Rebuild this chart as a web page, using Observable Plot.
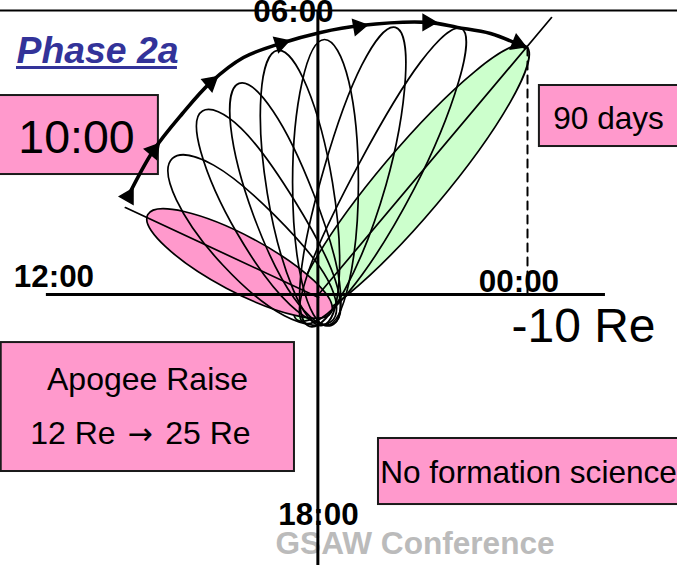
<!DOCTYPE html>
<html>
<head>
<meta charset="utf-8">
<script src="https://cdn.jsdelivr.net/npm/d3@7"></script>
<script src="https://cdn.jsdelivr.net/npm/@observablehq/plot@0.6"></script>
<style>
html,body{margin:0;padding:0;background:#fff;overflow:hidden}
svg{display:block}
</style>
</head>
<body>
<div id="chart"></div>
<script>
// All values are in Earth radii (Re). +x points to 12:00, +y to 06:00.
const pinkOrbit = [[8.17,3.82],[7.33,2.30],[4.41,0.30],[1.12,-1.00],[-0.61,-0.85],[0.23,0.67],[3.15,2.67],[6.44,3.97]];
const greenOrbit = [[-9.95,11.87],[-9.19,9.23],[-5.66,4.32],[-1.41,0.00],[1.05,-1.20],[0.29,1.44],[-3.24,6.35],[-7.49,10.68]];
const orbit1 = [[6.99,6.51],[5.02,6.19],[2.07,3.76],[-0.43,0.72],[-0.62,-1.29],[1.63,-1.02],[4.58,1.41],[6.80,4.53]];
const orbit2 = [[5.55,8.78],[3.70,7.95],[1.17,4.53],[-0.81,0.67],[-0.72,-1.39],[1.37,-0.48],[3.90,2.94],[5.63,6.83]];
const orbit3 = [[3.80,10.10],[2.17,8.77],[0.24,4.83],[-1.00,0.62],[-0.62,-1.48],[1.18,-0.16],[3.11,3.78],[4.20,8.02]];
const orbit4 = [[1.96,11.68],[0.55,9.93],[-0.67,5.35],[-0.98,0.63],[-0.19,-1.48],[1.22,0.26],[2.45,4.84],[2.75,9.57]];
const orbit5 = [[-0.29,12.20],[-1.45,10.19],[-1.91,5.36],[-1.45,0.53],[-0.38,-1.48],[0.78,0.53],[1.24,5.36],[0.78,10.19]];
const orbit6 = [[-3.68,12.78],[-4.16,10.40],[-3.23,5.24],[-1.24,0.19],[0.43,-1.53],[0.86,0.81],[-0.27,6.05],[-2.07,10.97]];
const orbit7 = [[-6.84,12.73],[-6.71,10.20],[-4.57,5.04],[-1.43,0.10],[0.72,-1.34],[0.43,1.24],[-1.99,6.35],[-4.89,11.13]];
const plainOrbits = [orbit1, orbit2, orbit3, orbit4, orbit5, orbit6, orbit7];

const apogeeArc = [[9.14,4.64],[7.90,6.89],[6.51,8.66],[5.17,10.14],[3.59,11.34],[1.82,12.01],[-0.10,12.54],[-2.01,12.87],[-5.22,13.02],[-6.65,12.78],[-8.23,12.49],[-9.90,11.82]];
const arcHeads = [[9.09,4.69,30],[7.90,6.89,40],[5.17,10.14,50],[1.82,12.01,72],[-1.91,12.82,80],[-5.22,13.02,90],[-9.52,12.01,112]];

const startLine = [[9.24,4.16],[0,-0.14]];
const endLine = [[-11.15,13.25],[0,0]];
const dashedDrop = [[-10,11.82],[-10,0]];

const boxes = [
  {x1:15.3,x2:7.66,y1:9.52,y2:5.74},
  {x1:-10.57,x2:-17.27,y1:10.00,y2:7.08},
  {x1:15.18,x2:1.15,y1:-2.30,y2:-8.47},
  {x1:-2.87,x2:-17.27,y1:-6.89,y2:-10.05}
];
const boxLabels = [
  {t:"10:00",x:11.58,y:6.79,s:46.5},
  {t:"90 days",x:-13.88,y:7.94,s:31.6},
  {t:"Apogee Raise",x:8.18,y:-4.55,s:32},
  {t:"12 Re",x:11.75,y:-7.13,s:32},
  {t:"25 Re",x:5.29,y:-7.13,s:32},
  {t:"No formation science",x:-10.05,y:-9.00,s:31.6},
  {t:"-10 Re",x:-12.68,y:-2.25,s:48}
];
const arrowLabel = [{t:"\u2192",x:8.54,y:-7.13}];
const timeLabels = [
  {t:"06:00",x:1.20,y:13.02},
  {t:"12:00",x:12.66,y:0.38},
  {t:"00:00",x:-9.59,y:0.14},
  {t:"18:00",x:0,y:-11.05}
];
const font = "Liberation Sans, Arial, sans-serif";
const px = d => d[0], py = d => d[1];
const orbitLine = (pts, fill) => Plot.line(pts, {x:px, y:py, curve:"cardinal-closed", tension:-0.125, stroke:"#000", strokeWidth:1.7, fill});

const chart = Plot.plot({
  width:677, height:565, margin:0,
  x:{domain:[15.215,-17.177], range:[0,677], axis:null},
  y:{domain:[14.067,-12.967], range:[0,565], axis:null},
  style:{background:"#fff", fontFamily:font},
  marks:[
    Plot.rect(boxes,{x1:"x1",x2:"x2",y1:"y1",y2:"y2",fill:"#ff99cc",stroke:"#1a1a1a",strokeWidth:2}),
    orbitLine(greenOrbit,"#ccffcc"),
    orbitLine(pinkOrbit,"#ff99cc"),
    ...plainOrbits.map(o => orbitLine(o,"none")),
    Plot.line(startLine,{x:px,y:py,stroke:"#000",strokeWidth:1.7}),
    Plot.line(endLine,{x:px,y:py,stroke:"#000",strokeWidth:1.7}),
    Plot.line(dashedDrop,{x:px,y:py,stroke:"#000",strokeWidth:2,strokeDasharray:"8,6"}),
    Plot.text(["Phase 2a"],{x:[14.45],y:[11.10],text:d=>d,textAnchor:"start",lineAnchor:"bottom",fontSize:37.4,fontWeight:"bold",fontStyle:"italic",fill:"#333399"}),
    Plot.ruleY([10.86],{x1:14.45,x2:6.75,stroke:"#333399",strokeWidth:3}),
    Plot.text(boxLabels,{x:"x",y:"y",text:"t",fontSize:d=>d.s,lineAnchor:"bottom",fill:"#000"}),
    Plot.text(arrowLabel,{x:"x",y:"y",text:"t",fontSize:30,fontFamily:"DejaVu Sans",lineAnchor:"bottom",fill:"#000"}),
    Plot.text(timeLabels,{x:"x",y:"y",text:"t",fontSize:31.4,fontWeight:"bold",lineAnchor:"bottom",fill:"#000"}),
    Plot.text(["GSAW Conference"],{x:[-4.62],y:[-12.44],text:d=>d,fontSize:31.6,fontWeight:"bold",lineAnchor:"bottom",fill:"#bbbbbb"}),
    Plot.ruleY([13.59],{stroke:"#000",strokeWidth:2}),
    Plot.ruleY([0],{x1:13.02,x2:-13.73,stroke:"#000",strokeWidth:3}),
    Plot.ruleX([0.03],{y1:13.59,y2:-12.967,stroke:"#000",strokeWidth:3}),
    Plot.line(apogeeArc,{x:px,y:py,curve:"catmull-rom",stroke:"#000",strokeWidth:3.6}),
    Plot.dot(arcHeads,{x:px,y:py,rotate:d=>d[2],symbol:"triangle",r:5.8,fill:"#000",stroke:"#000"})
  ]
});
document.getElementById("chart").append(chart);
</script>
</body>
</html>
